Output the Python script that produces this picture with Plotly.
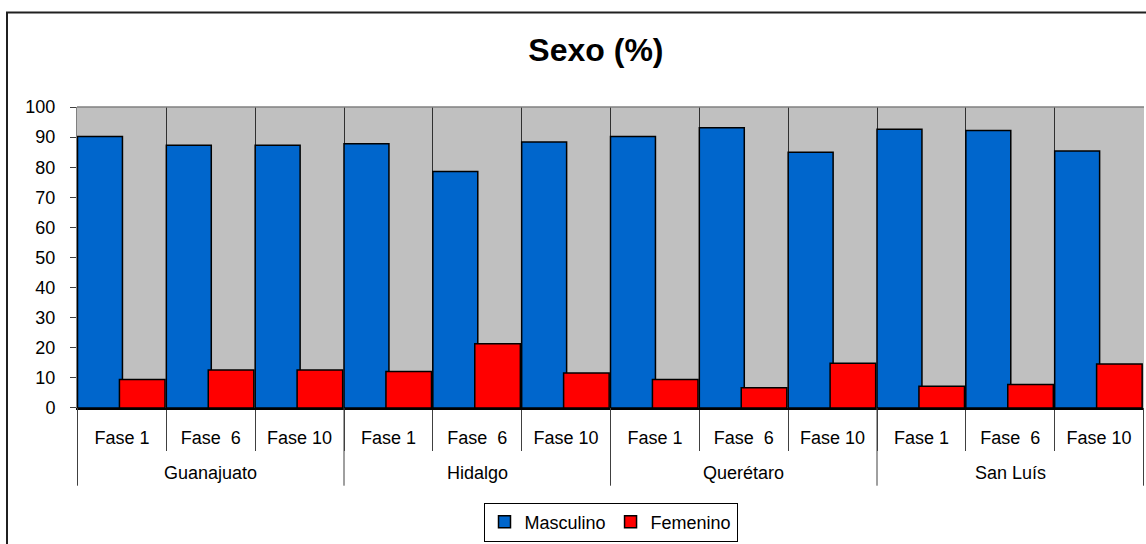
import plotly.graph_objects as go

estados = ["Guanajuato", "Hidalgo", "Querétaro", "San Luís"]
fases = ["Fase 1", "Fase\u00a0\u00a06", "Fase 10"]

masculino = [90.2, 87.3, 87.3, 87.8, 78.6, 88.4, 90.2, 93.1, 85.0, 92.6, 92.2, 85.4]
femenino = [9.5, 12.6, 12.6, 12.1, 21.3, 11.6, 9.5, 6.7, 14.9, 7.2, 7.8, 14.6]

# one unique category per state/phase pair, shown with the phase name only
claves = [f"{e} | {f}" for e in estados for f in fases]
etiquetas = [f for _ in estados for f in fases]

FONT = "Liberation Sans, Arial, sans-serif"
H, T, B = 544, 107, 10
PH = H - T - B


def py(pixel_y):
    """pixel row in the picture -> paper y"""
    return (H - B - pixel_y) / PH


y_bottom = py(413)  # bottom of bar area

fig = go.Figure()
fig.add_trace(go.Bar(
    x=claves, y=masculino, name="Masculino",
    marker=dict(color="#0066CC", line=dict(color="black", width=1.5)),
    offset=-0.5, width=0.506,
))
fig.add_trace(go.Bar(
    x=claves, y=femenino, name="Femenino",
    marker=dict(color="#FF0000", line=dict(color="black", width=1.5)),
    offset=-0.028, width=0.513,
))

fig.update_layout(
    width=1146, height=H,
    barmode="overlay",
    paper_bgcolor="white", plot_bgcolor="#C0C0C0",
    font=dict(family=FONT, size=18, color="black"),
    title=dict(text="<b>Sexo (%)</b>", xref="container", x=0.52, xanchor="center",
               yref="container", y=1 - 50 / H, yanchor="middle", font=dict(size=32)),
    margin=dict(l=77, r=2, t=T, b=B),
    showlegend=True,
    legend=dict(orientation="h", x=0.5, xanchor="center", y=py(529),
                yanchor="middle", bordercolor="black", borderwidth=1,
                font=dict(size=18), itemwidth=30, traceorder="normal"),
    xaxis=dict(
        type="category", tickvals=claves, ticktext=etiquetas, tickson="boundaries",
        showgrid=True, gridcolor="#303030", gridwidth=1,
        showline=True, linecolor="black", linewidth=1.5,
        ticks="outside", ticklen=41, tickcolor="#404040", ticklabelstandoff=13,
    ),
    yaxis=dict(
        domain=[y_bottom, 1], range=[0, 100], dtick=10, showgrid=False,
        showline=True, linecolor="#808080", linewidth=1,
        ticks="outside", ticklen=6, tickcolor="#404040", ticklabelstandoff=11,
        zeroline=False,
    ),
)

# second label row: state names centred under their phases, long dividers between groups
n_f = len(fases)
for i, est in enumerate(estados):
    fig.add_annotation(text=est, x=i * n_f + (n_f - 1) / 2, xref="x",
                       y=py(479), yref="paper", yanchor="middle",
                       showarrow=False, font=dict(size=18))
for i in range(len(estados) + 1):
    fig.add_shape(type="line", xref="x", yref="paper",
                  x0=i * n_f - 0.5, x1=i * n_f - 0.5, y0=y_bottom, y1=py(492),
                  line=dict(color="#404040", width=1))

# frame around the whole chart, top-left visible, right/bottom run off the picture
fig.add_shape(type="rect", xref="paper", yref="paper",
              x0=(7 - 77) / 1067, x1=1.05, y0=-0.2, y1=py(11),
              line=dict(color="#202020", width=2), layer="below")
# top border of plot area
fig.add_shape(type="line", xref="paper", yref="paper", x0=0, x1=1, y0=1, y1=1,
              line=dict(color="#808080", width=1.5))

# page body has a default 8px margin; drop it so the chart sits at 0,0
fig.write_html("out.html", config={"displayModeBar": False},
               post_script="document.body.style.margin='0';")
